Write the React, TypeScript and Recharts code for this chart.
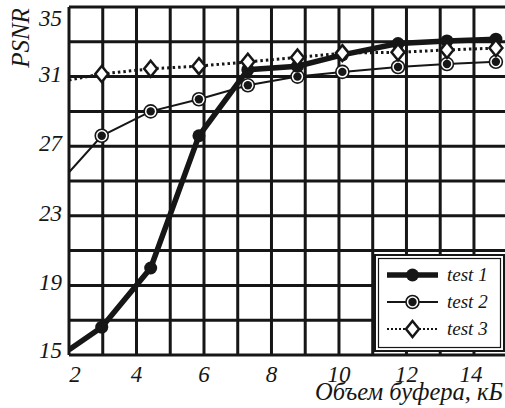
import { LineChart, Line, XAxis, YAxis, ReferenceLine } from "recharts";

// buffer size, kB
const bufferKb = [2, 2.97, 4.42, 5.85, 7.3, 8.77, 10.1, 11.75, 13.2, 14.65];
// PSNR per test
const test1 = [15.3, 16.6, 20.0, 27.6, 31.4, 31.6, 32.25, 32.9, 33.05, 33.15];
const test2 = [25.5, 27.6, 29.0, 29.7, 30.5, 31.0, 31.27, 31.55, 31.72, 31.85];
const test3 = [30.8, 31.15, 31.45, 31.6, 31.85, 32.1, 32.35, 32.4, 32.53, 32.64];

const xTicks = [2, 3, 4, 5, 6, 7, 8, 9, 10, 11, 12, 13, 14];
const yTicks = [15, 17, 19, 21, 23, 25, 27, 29, 31, 33, 35];
const xLabels = [2, 4, 6, 8, 10, 12, 14];
const yLabels = [15, 19, 23, 27, 31, 35];

const seriesNames = ["test 1", "test 2", "test 3"];

const data = bufferKb.map((x, i) => ({
  x,
  test1: test1[i],
  test2: test2[i],
  test3: test3[i],
}));

const INK = "#161616";
const serif = {
  fontFamily: '"Liberation Serif", Tinos, "DejaVu Serif", serif',
  fontStyle: "italic",
} as const;

const XTick = (props: any) => {
  const { x, y, payload } = props;
  const v = payload.value;
  if (!xLabels.includes(v)) return <g />;
  const shift = v === 2 ? 6 : v === 14 ? -3 : 0;
  return (
    <text x={x + shift} y={y + 19} dy="0.35em" textAnchor="middle" style={{ ...serif, fontSize: 23 }} fill={INK}>
      {v}
    </text>
  );
};

const YTick = (props: any) => {
  const { x, y, payload } = props;
  const v = payload.value;
  if (!yLabels.includes(v)) return <g />;
  const shift = v === 35 ? 11 : v === 15 ? -5 : -3;
  return (
    <text x={x - 7} y={y + shift} dy="0.35em" textAnchor="end" style={{ ...serif, fontSize: 23 }} fill={INK}>
      {v}
    </text>
  );
};

const Dot1 = (p: any) =>
  p.index === 0 ? <g key={`a${p.index}`} /> : <circle key={`a${p.index}`} cx={p.cx} cy={p.cy} r={6.5} fill={INK} />;

const Dot2 = (p: any) =>
  p.index === 0 ? (
    <g key={`b${p.index}`} />
  ) : (
    <g key={`b${p.index}`}>
      <circle cx={p.cx} cy={p.cy} r={6.5} fill="#fff" stroke={INK} strokeWidth={1.6} />
      <circle cx={p.cx} cy={p.cy} r={4.2} fill={INK} />
    </g>
  );

const diamond = (cx: number, cy: number) =>
  `${cx},${cy - 8} ${cx + 6.5},${cy} ${cx},${cy + 8} ${cx - 6.5},${cy}`;

const Dot3 = (p: any) =>
  p.index === 0 ? (
    <g key={`c${p.index}`} />
  ) : (
    <polygon key={`c${p.index}`} points={diamond(p.cx, p.cy)} fill="#fff" stroke={INK} strokeWidth={2.5} />
  );

function LegendBox() {
  const rows = [21, 48, 75];
  return (
    <svg width={131} height={98} style={{ position: "absolute", left: 374, top: 254 }}>
      <rect x={1} y={1} width={129} height={96} fill="#fff" stroke={INK} strokeWidth={2} />
      <rect x={4.5} y={4.5} width={122} height={89} fill="none" stroke={INK} strokeWidth={1.2} />
      <line x1={13} x2={64} y1={rows[0]} y2={rows[0]} stroke={INK} strokeWidth={5.5} />
      <circle cx={38.5} cy={rows[0]} r={6.5} fill={INK} />
      <line x1={13} x2={64} y1={rows[1]} y2={rows[1]} stroke={INK} strokeWidth={2} />
      <circle cx={38.5} cy={rows[1]} r={6.5} fill="#fff" stroke={INK} strokeWidth={1.6} />
      <circle cx={38.5} cy={rows[1]} r={4.2} fill={INK} />
      <line x1={13} x2={64} y1={rows[2]} y2={rows[2]} stroke={INK} strokeWidth={2} strokeDasharray="2 2" />
      <polygon points={diamond(38.5, rows[2])} fill="#fff" stroke={INK} strokeWidth={2.5} />
      {seriesNames.map((n, i) => (
        <text key={n} x={73} y={rows[i] + 6} style={{ ...serif, fontSize: 19 }} fill={INK}>
          {n}
        </text>
      ))}
    </svg>
  );
}

export default function App() {
  return (
    <div style={{ position: "absolute", left: 0, top: 0, width: 505, height: 408, background: "#fff", overflow: "hidden" }}>
      <LineChart width={505} height={408} data={data} margin={{ top: 7, right: 0, bottom: 0, left: 0 }}>
        <XAxis
          dataKey="x"
          type="number"
          domain={[2, 14.92]}
          ticks={xTicks}
          allowDataOverflow
          height={53}
          axisLine={false}
          tickLine={false}
          tickSize={0}
          tickMargin={0}
          interval={0}
          tick={XTick}
          label={{
            content: (p: any) => (
              <text x={p.viewBox.x + p.viewBox.width - 2} y={p.viewBox.y + 45} textAnchor="end" style={{ ...serif, fontSize: 24.5 }} fill={INK}>
                Объем буфера, кБ
              </text>
            ),
          }}
        />
        <YAxis
          type="number"
          domain={[15, 35]}
          ticks={yTicks}
          width={69}
          axisLine={false}
          tickLine={false}
          tickSize={0}
          tickMargin={0}
          interval={0}
          tick={YTick}
          label={{
            content: (p: any) => (
              <text x={29} y={p.viewBox.y + 31} transform={`rotate(-90, 29, ${p.viewBox.y + 31})`} textAnchor="middle" style={{ ...serif, fontSize: 25 }} fill={INK}>
                PSNR
              </text>
            ),
          }}
        />
        {xTicks.map((t) => (
          <ReferenceLine key={`gx${t}`} x={t} stroke={INK} strokeWidth={3} />
        ))}
        {yTicks.map((t) => (
          <ReferenceLine key={`gy${t}`} y={t} stroke={INK} strokeWidth={3} />
        ))}
        <Line dataKey="test2" type="linear" stroke={INK} strokeWidth={2} dot={Dot2} activeDot={false} isAnimationActive={false} />
        <Line dataKey="test1" type="linear" stroke={INK} strokeWidth={5.5} dot={Dot1} activeDot={false} isAnimationActive={false} />
        <Line dataKey="test3" type="linear" stroke={INK} strokeWidth={3} strokeDasharray="2.5 3" dot={Dot3} activeDot={false} isAnimationActive={false} />
      </LineChart>
      <LegendBox />
    </div>
  );
}
